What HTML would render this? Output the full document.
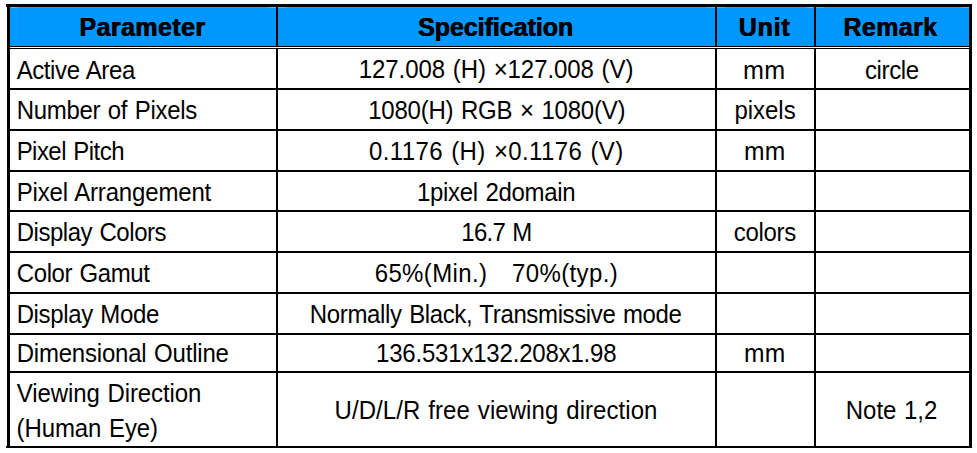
<!DOCTYPE html>
<html><head><meta charset="utf-8"><title>Spec table</title>
<style>
html,body{margin:0;padding:0;background:#fff;}
body{width:977px;height:453px;position:relative;overflow:hidden;font-family:"Liberation Sans",sans-serif;}
.r{position:absolute;}
.t{position:absolute;white-space:pre;line-height:1;color:#000;font-size:24px;word-spacing:1.2px;transform:scaleY(1.04);transform-origin:0 0;}
.t.b{font-weight:bold;font-size:25px;transform:none;text-shadow:0.35px 0 0 #000,-0.35px 0 0 #000;}
</style></head><body>
<div class="r" style="left:10px;top:7px;width:959px;height:39px;background:#0098ff"></div>
<div class="r" style="left:10px;top:7px;width:959px;height:1px;background:rgba(255,255,255,0.10)"></div>
<div class="r" style="left:10px;top:7px;width:8px;height:1px;background:rgba(255,255,255,0.22)"></div>
<div class="r" style="left:268px;top:7px;width:8px;height:1px;background:rgba(255,255,255,0.22)"></div>
<div class="r" style="left:278px;top:7px;width:8px;height:1px;background:rgba(255,255,255,0.22)"></div>
<div class="r" style="left:707px;top:7px;width:8px;height:1px;background:rgba(255,255,255,0.22)"></div>
<div class="r" style="left:717px;top:7px;width:8px;height:1px;background:rgba(255,255,255,0.22)"></div>
<div class="r" style="left:806px;top:7px;width:8px;height:1px;background:rgba(255,255,255,0.22)"></div>
<div class="r" style="left:816px;top:7px;width:8px;height:1px;background:rgba(255,255,255,0.22)"></div>
<div class="r" style="left:961px;top:7px;width:8px;height:1px;background:rgba(255,255,255,0.22)"></div>
<div class="r" style="left:17px;top:8px;width:1px;height:38px;background:rgba(255,255,255,0.05)"></div>
<div class="r" style="left:6px;top:4px;width:966px;height:3px;background:#000"></div>
<div class="r" style="left:7px;top:4px;width:3px;height:444px;background:#000"></div>
<div class="r" style="left:969px;top:4px;width:3px;height:444px;background:#000"></div>
<div class="r" style="left:6px;top:446px;width:966px;height:2px;background:#000"></div>
<div class="r" style="left:276px;top:7px;width:2px;height:439px;background:#000"></div>
<div class="r" style="left:715px;top:7px;width:2px;height:439px;background:#000"></div>
<div class="r" style="left:814px;top:7px;width:2px;height:439px;background:#000"></div>
<div class="r" style="left:10px;top:46px;width:959px;height:1px;background:#000"></div>
<div class="r" style="left:10px;top:47px;width:959px;height:1px;background:#fff"></div>
<div class="r" style="left:10px;top:48px;width:959px;height:1px;background:#000"></div>
<div class="r" style="left:10px;top:88px;width:959px;height:2px;background:#000"></div>
<div class="r" style="left:10px;top:129px;width:959px;height:2px;background:#000"></div>
<div class="r" style="left:10px;top:170px;width:959px;height:2px;background:#000"></div>
<div class="r" style="left:10px;top:210px;width:959px;height:2px;background:#000"></div>
<div class="r" style="left:10px;top:251px;width:959px;height:2px;background:#000"></div>
<div class="r" style="left:10px;top:292px;width:959px;height:2px;background:#000"></div>
<div class="r" style="left:10px;top:333px;width:959px;height:2px;background:#000"></div>
<div class="r" style="left:10px;top:371px;width:959px;height:2px;background:#000"></div>
<span class="t b" id="t0" style="left:79.50px;top:15.00px;letter-spacing:0.414px">Parameter</span>
<span class="t b" id="t1" style="left:418.13px;top:15.00px;letter-spacing:-0.039px">Specification</span>
<span class="t b" id="t2" style="left:738.74px;top:15.00px;letter-spacing:0.804px">Unit</span>
<span class="t b" id="t3" style="left:843.50px;top:15.00px;letter-spacing:0.387px">Remark</span>
<span class="t" id="t4" style="left:16.64px;top:58.00px;letter-spacing:-0.397px">Active Area</span>
<span class="t" id="t5" style="left:16.65px;top:98.00px;letter-spacing:-0.298px">Number of Pixels</span>
<span class="t" id="t6" style="left:16.65px;top:139.00px;letter-spacing:-0.540px">Pixel Pitch</span>
<span class="t" id="t7" style="left:16.65px;top:180.00px;letter-spacing:-0.167px">Pixel Arrangement</span>
<span class="t" id="t8" style="left:16.65px;top:220.00px;letter-spacing:-0.462px">Display Colors</span>
<span class="t" id="t9" style="left:16.83px;top:261.00px;letter-spacing:-0.410px">Color Gamut</span>
<span class="t" id="t10" style="left:16.65px;top:302.00px;letter-spacing:-0.359px">Display Mode</span>
<span class="t" id="t11" style="left:16.65px;top:341.00px;letter-spacing:-0.206px">Dimensional Outline</span>
<span class="t" id="t12" style="left:16.71px;top:381.00px;letter-spacing:-0.093px">Viewing Direction</span>
<span class="t" id="t13" style="left:16.60px;top:416.00px;letter-spacing:-0.109px">(Human Eye)</span>
<span class="t" id="t14" style="left:358.80px;top:57.00px;letter-spacing:-0.078px">127.008 (H) ×127.008 (V)</span>
<span class="t" id="t15" style="left:368.22px;top:98.00px;letter-spacing:-0.225px">1080(H) RGB × 1080(V)</span>
<span class="t" id="t16" style="left:369.05px;top:139.00px;letter-spacing:0.382px">0.1176 (H) ×0.1176 (V)</span>
<span class="t" id="t17" style="left:417.01px;top:180.00px;letter-spacing:-0.306px">1pixel 2domain</span>
<span class="t" id="t18" style="left:461.22px;top:220.00px;letter-spacing:-0.687px">16.7 M</span>
<span class="t" id="t19" style="left:374.69px;top:261.00px;letter-spacing:0.366px">65%(Min.)   70%(typ.)</span>
<span class="t" id="t20" style="left:309.87px;top:302.00px;letter-spacing:-0.364px">Normally Black, Transmissive mode</span>
<span class="t" id="t21" style="left:376.01px;top:341.00px;letter-spacing:-0.193px">136.531x132.208x1.98</span>
<span class="t" id="t22" style="left:334.56px;top:398.00px;letter-spacing:0.064px">U/D/L/R free viewing direction</span>
<span class="t" id="t23" style="left:743.33px;top:58.00px;letter-spacing:0.300px;transform:scale(1.0460,1.04)">mm</span>
<span class="t" id="t24" style="left:734.42px;top:98.00px;letter-spacing:-0.018px">pixels</span>
<span class="t" id="t25" style="left:744.33px;top:139.00px;letter-spacing:0.300px;transform:scale(1.0260,1.04)">mm</span>
<span class="t" id="t26" style="left:733.69px;top:220.00px;letter-spacing:-0.282px">colors</span>
<span class="t" id="t27" style="left:744.33px;top:341.00px;letter-spacing:0.300px;transform:scale(1.0260,1.04)">mm</span>
<span class="t" id="t28" style="left:864.92px;top:58.00px;letter-spacing:-0.346px">circle</span>
<span class="t" id="t29" style="left:845.87px;top:398.00px;letter-spacing:-0.072px">Note 1,2</span>
</body></html>
